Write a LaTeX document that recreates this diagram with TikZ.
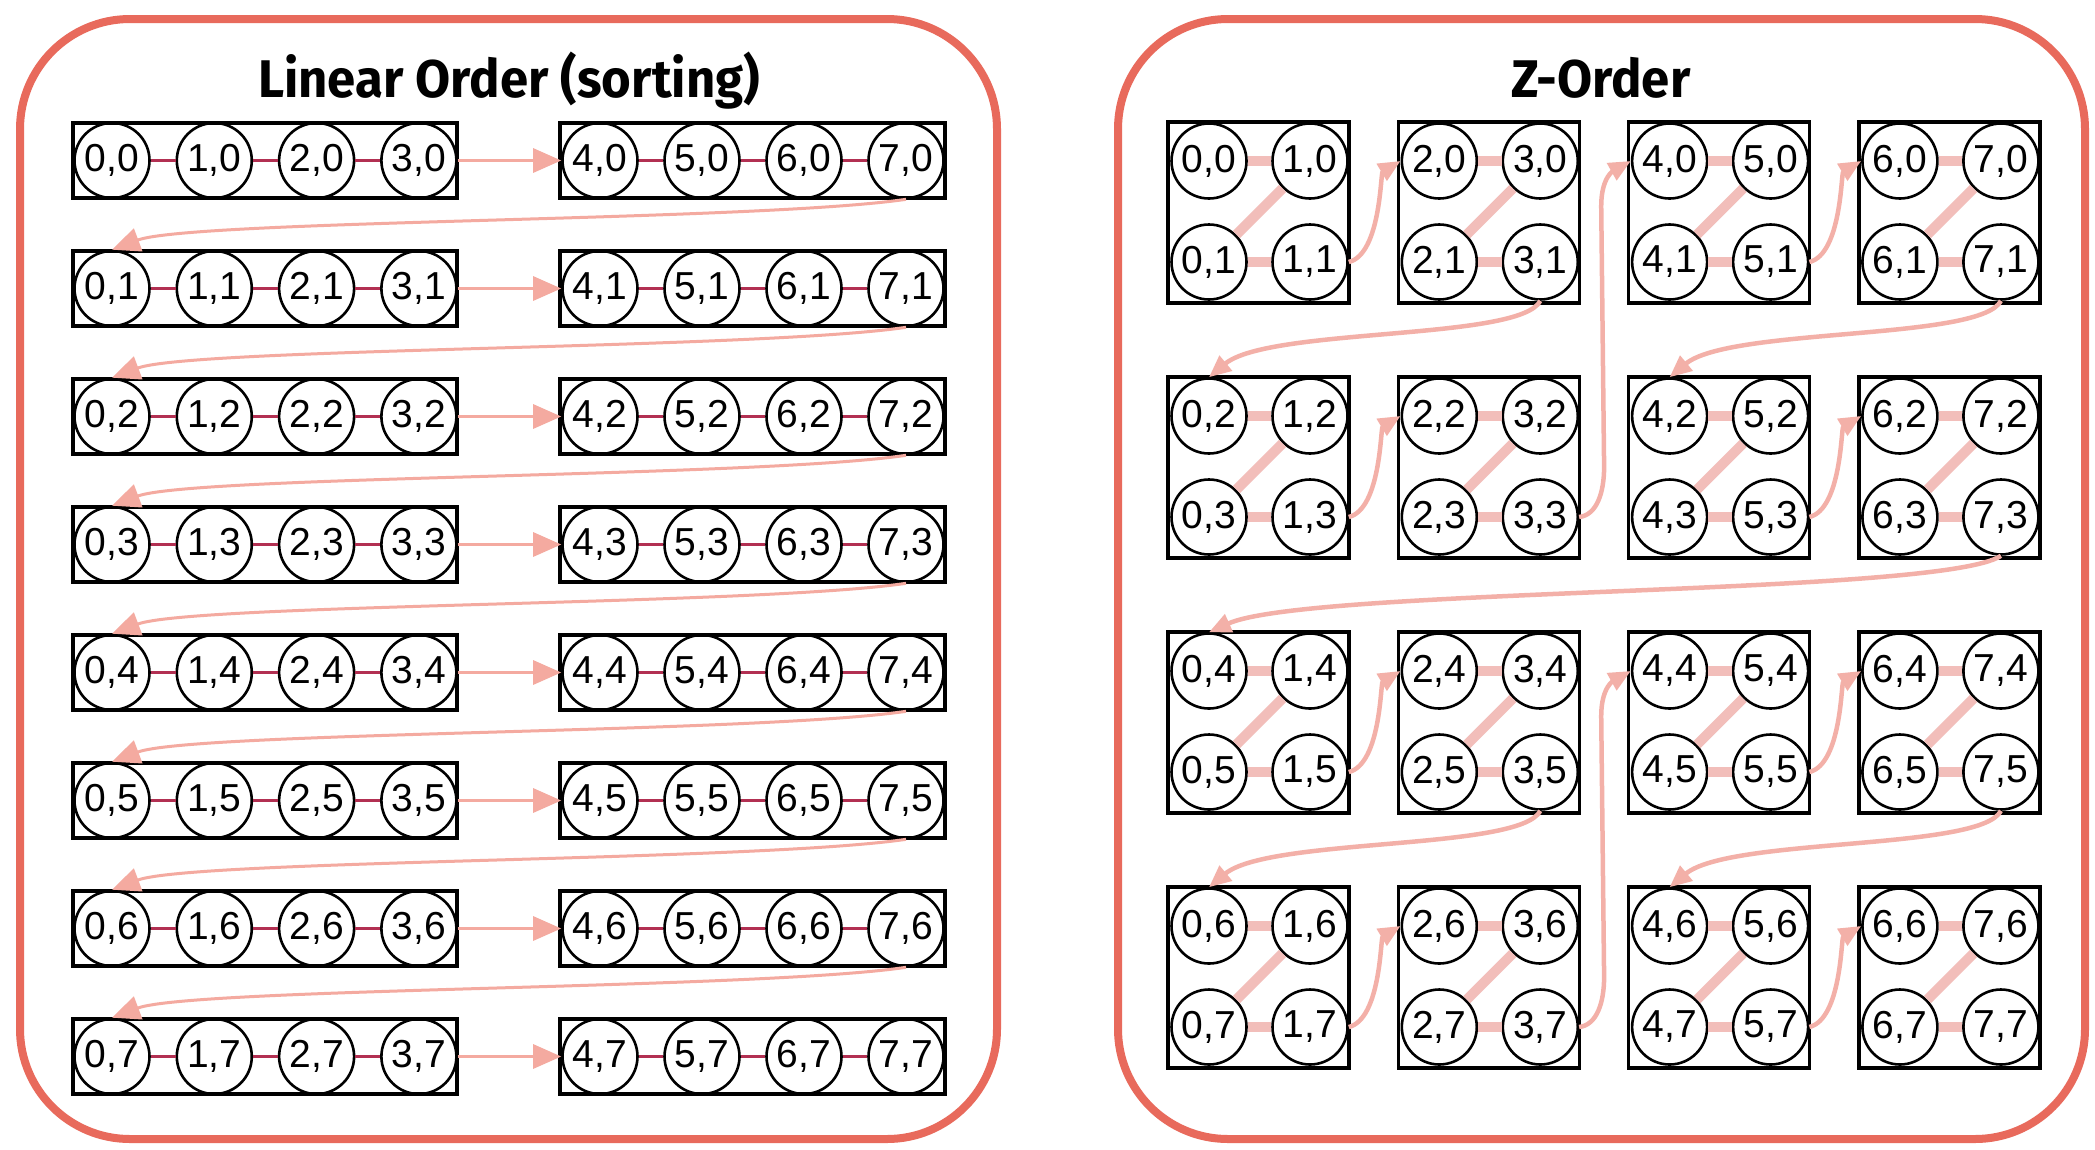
\documentclass[tikz,border=0pt]{standalone}
\usepackage{fontspec}
\setmainfont{Liberation Sans}
\newfontfamily\titlefont[FakeStretch=0.96]{Fira Sans}
\usetikzlibrary{arrows.meta,calc}
\definecolor{panelred}{RGB}{232,106,92}
\definecolor{arrowpink}{RGB}{244,170,160}
\definecolor{zarrow}{RGB}{243,176,168}
\definecolor{zline}{RGB}{242,190,186}
\definecolor{linkred}{RGB}{178,48,82}
\begin{document}
\begin{tikzpicture}[x=1pt,y=-1pt,
 cell/.style={circle,draw=black,line width=2.6pt,minimum size=75pt,inner sep=0pt,font=\fontsize{39}{40}\selectfont},
 grp/.style={draw=black,line width=3.4pt},
 panel/.style={draw=panelred,line width=8pt,rounded corners=110pt},
 link/.style={draw=linkred,line width=3pt},
 flow/.style={draw=arrowpink,line width=3pt,-{Triangle[length=28pt,width=24pt]}},
 zflow/.style={draw=zarrow,line width=4.5pt,-{Triangle[length=22pt,width=19pt]}},
 zlink/.style={draw=zline,line width=10pt},
 ttl/.style={font=\titlefont\bfseries\fontsize{53}{58}\selectfont,inner sep=0pt,anchor=base}
]
\useasboundingbox (0,0) rectangle (2095,1149);
\fill[white] (0,0) rectangle (2095,1149);
\draw[panel] (20,19) rectangle (997,1139);
\draw[panel] (1118,19) rectangle (2085,1139);
\node[ttl] (t1) at (509,97) {Linear Order (sorting)};
\node[ttl] (t2) at (1601,97) {Z-Order};
% linear order
\foreach \j in {0,...,7}{
  \pgfmathsetmacro\yy{160.5+128*\j}
  \pgfmathsetmacro\yt{\yy-37.5}
  \pgfmathsetmacro\yb{\yy+37.5}
  \draw[grp] (73,\yt) rectangle (457,\yb);
  \draw[grp] (560,\yt) rectangle (945,\yb);
  \foreach \i in {0,...,7}{
    \pgfmathsetmacro\xx{\i<4 ? 112+102.3*\i : 600+102*(\i-4)}
    \node[cell] (L\i-\j) at (\xx,\yy) {\i,\j};
  }
}
\foreach \j in {0,...,7}{
  \foreach \i in {0,1,2,4,5,6}{
    \pgfmathtruncatemacro\ii{\i+1}
    \draw[link] (L\i-\j) -- (L\ii-\j);
  }
  \draw[flow] (L3-\j) -- (L4-\j);
}
\foreach \j in {0,...,6}{
  \pgfmathtruncatemacro\jj{\j+1}
  \draw[flow] (L7-\j.south) .. controls +(-150,22) and +(80,-30) .. (L0-\jj.north);
}
% z-order
\foreach \by in {0,...,3}{
 \foreach \bx in {0,...,3}{
  \pgfmathsetmacro\bl{1168+230.3*\bx}
  \pgfmathsetmacro\bt{122+255*\by}
  \draw[grp] (\bl,\bt) rectangle ++(181,181);
  \foreach \dy in {0,1}{\foreach \dx in {0,1}{
    \pgfmathtruncatemacro\cx{2*\bx+\dx}
    \pgfmathtruncatemacro\cy{2*\by+\dy}
    \pgfmathsetmacro\px{\bl+41+101*\dx}
    \pgfmathsetmacro\py{\bt+39+101*\dy}
    \node[cell] (Z\cx-\cy) at (\px,\py) {\cx,\cy};
  }}
  \pgfmathtruncatemacro\xa{2*\bx}
  \pgfmathtruncatemacro\xb{2*\bx+1}
  \pgfmathtruncatemacro\ya{2*\by}
  \pgfmathtruncatemacro\yb{2*\by+1}
  \draw[zlink] (Z\xa-\ya) -- (Z\xb-\ya);
  \draw[zlink] (Z\xb-\ya) -- (Z\xa-\yb);
  \draw[zlink] (Z\xa-\yb) -- (Z\xb-\yb);
 }
}
\foreach \a/\b in {1-1/2-0,1-3/2-2,5-1/6-0,5-3/6-2,1-5/2-4,1-7/2-6,5-5/6-4,5-7/6-6}
  \draw[zflow] (Z\a.east) .. controls +(32,-8) and +(-20,12) .. (Z\b.west);
\foreach \a/\b in {3-1/0-2,7-1/4-2,3-5/0-6,7-5/4-6}
  \draw[zflow] (Z\a.south) .. controls +(-20,40) and +(60,-50) .. (Z\b.north);
\draw[zflow] (Z7-3.south) .. controls +(-60,40) and +(100,-45) .. (Z0-4.north);
\foreach \a/\b in {3-3/4-0,3-7/4-4}
  \draw[zflow] (Z\a.east) .. controls +(18,-2) and +(0,25) .. ($(Z\a.east)+(25,-50)$)
     -- ($(Z\b.west)+(-29.6,45)$) .. controls +(0,-30) and +(-16,9) .. (Z\b.west);
\end{tikzpicture}
\end{document}
